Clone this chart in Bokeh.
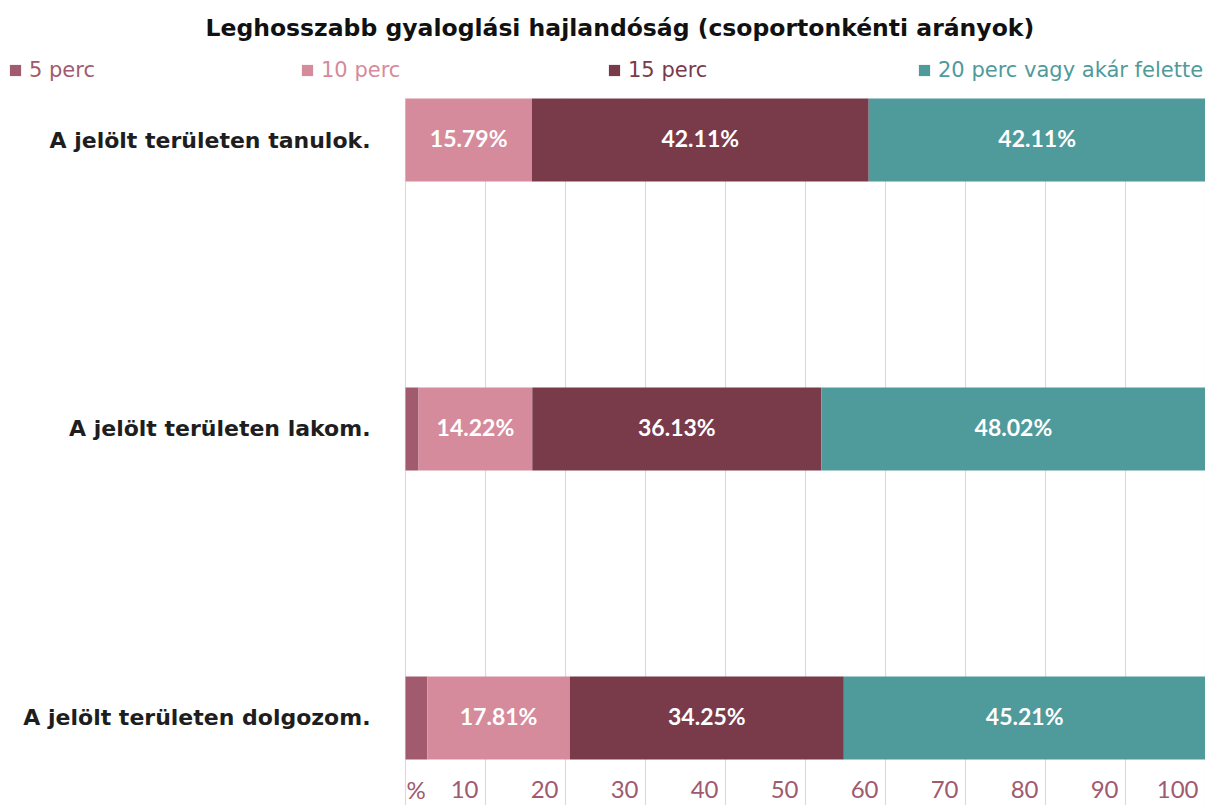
from bokeh.plotting import figure
from bokeh.models import ColumnDataSource, Legend, LegendItem, Range1d
from bokeh.core.properties import value
from bokeh.embed import file_html
from bokeh.resources import INLINE

# ---------------- data ----------------
TITLE = "Leghosszabb gyaloglási hajlandóság (csoportonkénti arányok)"
categories = [
    "A jelölt területen tanulok.",
    "A jelölt területen lakom.",
    "A jelölt területen dolgozom.",
]
series_names = ["5 perc", "10 perc", "15 perc", "20 perc vagy akár felette"]
p5 = [0.0, 1.63, 2.73]
p10 = [15.79, 14.22, 17.81]
p15 = [42.11, 36.13, 34.25]
p20 = [42.11, 48.02, 45.21]
x_ticks = [0, 10, 20, 30, 40, 50, 60, 70, 80, 90, 100]
x_tick_labels = ["%", "10", "20", "30", "40", "50", "60", "70", "80", "90", "100"]

# ---------------- style ----------------
FONT = "Lato"
HFONT = "DejaVu Sans"
colors = ["#A15A6E", "#D58B9B", "#793A4A", "#4F9A9B"]
TICK_COLOR = "#A05A6E"
GRID_COLOR = "#E6D5DC"
BAR_H = 0.287
TICK_Y = -0.2474
Y0, Y1 = -0.3028, 2.327
X0 = -50.625

ypos = [len(categories) - 1 - i for i in range(len(categories))]
fields = ["p5", "p10", "p15", "p20"]
src = ColumnDataSource(dict(y=ypos, p5=p5, p10=p10, p15=p15, p20=p20))

p = figure(
    frame_width=1205, frame_height=760,
    min_border_left=0, min_border_right=0, min_border_top=45, min_border_bottom=0,
    x_range=Range1d(X0, 100), y_range=Range1d(Y0, Y1),
    x_axis_location=None, y_axis_location=None,
    output_backend="svg", toolbar_location=None, title=TITLE,
)
p.outline_line_color = None
p.background_fill_color = "white"
p.border_fill_color = "white"
p.xgrid.visible = False
p.ygrid.visible = False

# title
p.title.text_font = HFONT
p.title.text_font_size = "23.5px"
p.title.text_font_style = "bold"
p.title.text_color = "#111111"
p.title.align = "left"
p.title.offset = 205
p.title.standoff = 8

# vertical grid lines (from top of first bar downwards)
top_y = max(ypos) + BAR_H / 2
p.segment(x0=x_ticks, y0=[Y0] * len(x_ticks), x1=x_ticks, y1=[top_y] * len(x_ticks),
          line_color=GRID_COLOR, line_width=1.2, level="underlay")

# bars
rends = p.hbar_stack(fields, y="y", height=BAR_H, fill_color=colors,
                     line_color=None, source=src)

# category labels
p.text(x=[0] * len(categories), y=ypos, text=categories, text_align="right",
       text_baseline="middle", x_offset=-35, text_color="#1E1E1E",
       text_font=value(HFONT), text_font_style="bold", text_font_size="22px")

# bar labels (series 2..4)
lx, ly, lt = [], [], []
for i in range(len(categories)):
    vals = [p5[i], p10[i], p15[i], p20[i]]
    left = 0.0
    for k, v in enumerate(vals):
        if k > 0 and v > 0:
            lx.append(left + v / 2)
            ly.append(ypos[i])
            lt.append(f"{v:.2f}%")
        left += v
p.text(x=lx, y=ly, text=lt, text_align="center", text_baseline="middle",
       y_offset=-2, text_color="white", text_font=value(FONT),
       text_font_style="bold", text_font_size="23px")

# x tick labels (left of their grid lines)
p.text(x=x_ticks[1:], y=[TICK_Y] * (len(x_ticks) - 1), text=x_tick_labels[1:],
       text_align="right", text_baseline="middle", x_offset=-7,
       text_color=TICK_COLOR, text_font=value(FONT), text_font_size="24px")
p.text(x=x_ticks[:1], y=[TICK_Y], text=x_tick_labels[:1],
       text_align="left", text_baseline="middle", x_offset=1,
       text_color=TICK_COLOR, text_font=value(FONT), text_font_size="24px")

# legends (one per series so each label gets its own colour)
leg_x = [8, 300, 607, 917]
for name, r, c, lxp in zip(series_names, rends, colors, leg_x):
    leg = Legend(items=[LegendItem(label=name, renderers=[r])],
                 location=(lxp, 723), orientation="horizontal",
                 border_line_color=None, background_fill_alpha=0,
                 padding=0, margin=0, spacing=0,
                 glyph_width=14, glyph_height=14, label_standoff=7,
                 label_text_font=HFONT, label_text_font_size="21px",
                 label_text_color=c)
    p.add_layout(leg)

open("out.html", "w").write(file_html(p, INLINE))
